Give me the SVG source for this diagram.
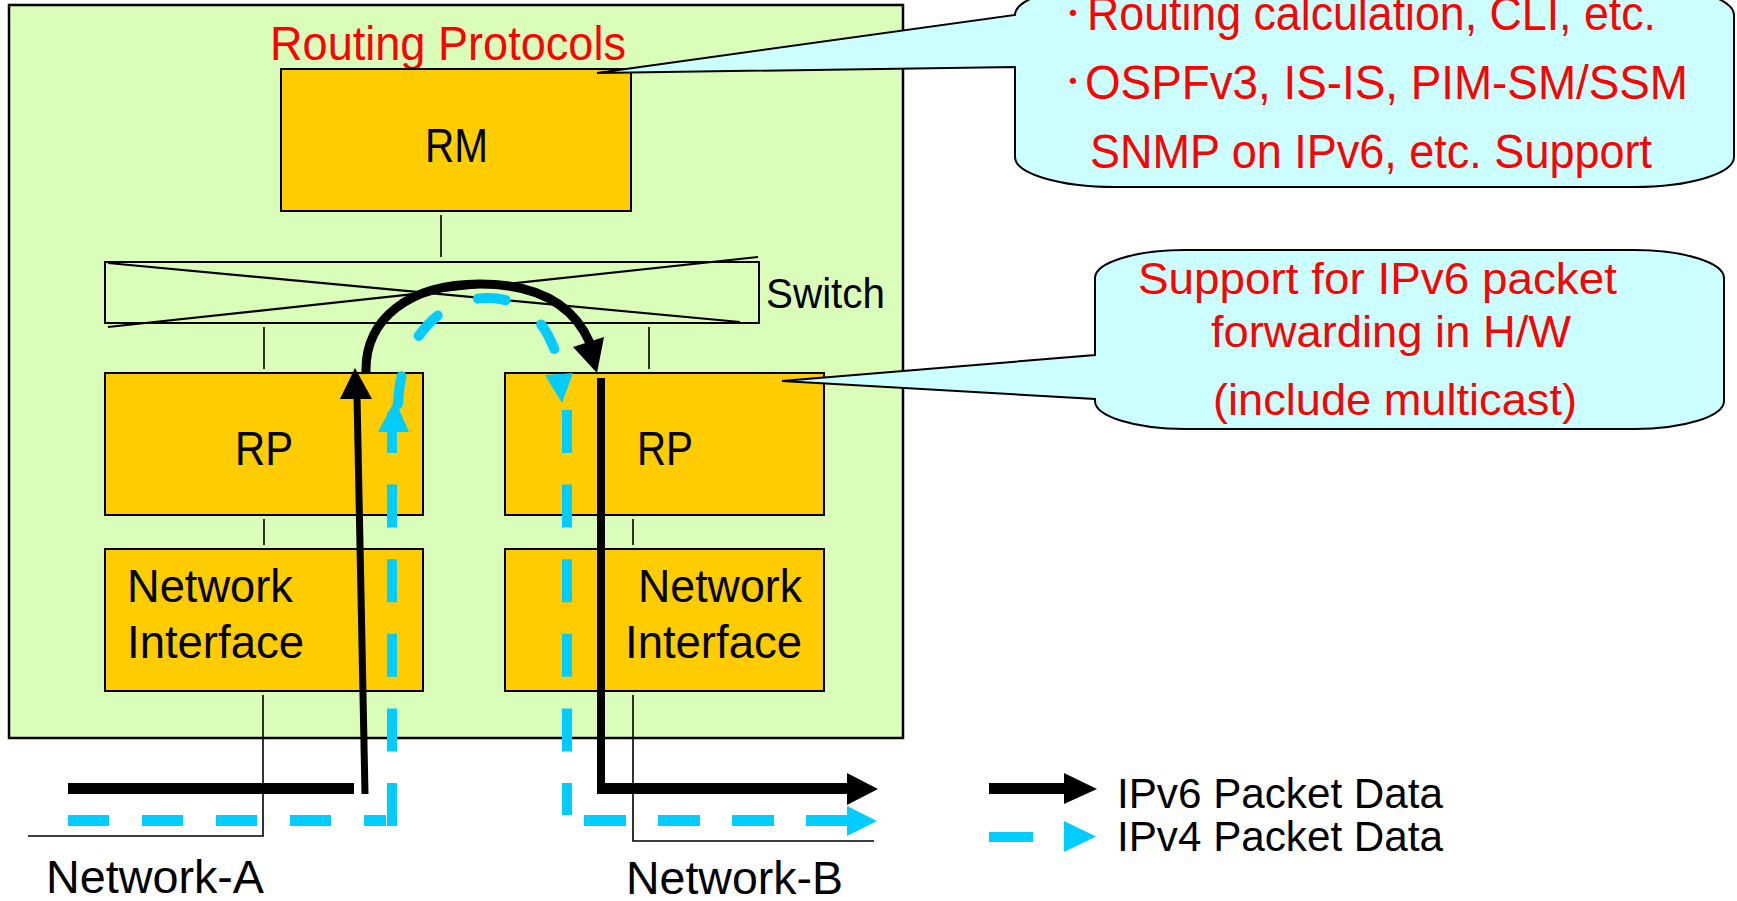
<svg xmlns="http://www.w3.org/2000/svg" width="1737" height="901" viewBox="0 0 1737 901">
  <defs>
    <style>
      .lbl { font-family: "Liberation Sans", "Noto Sans CJK JP", sans-serif; fill: #000; }
      .red { font-family: "Liberation Sans", "Noto Sans CJK JP", sans-serif; fill: #FF0000; }
      .unit { fill: #FFCC00; stroke: #000; stroke-width: 2; }
      .tick { stroke: #000; stroke-width: 1.6; fill: none; }
      .v6 { stroke: #000; fill: none; }
      .v4 { stroke: #00CCFF; fill: none; }
      .callout { fill: #CCFFFF; stroke: #000; stroke-width: 2; }
    </style>
  </defs>

  <!-- router chassis -->
  <g id="chassis">
    <rect x="9" y="5" width="894" height="733" fill="#DAFEBA" stroke="#000" stroke-width="2.5"/>
    <text class="red" x="270" y="60" font-size="48" textLength="356" lengthAdjust="spacingAndGlyphs">Routing Protocols</text>
  </g>

  <g id="rm">
    <rect class="unit" x="281" y="69" width="350" height="142"/>
    <text class="lbl" x="425" y="162" font-size="48" textLength="63" lengthAdjust="spacingAndGlyphs">RM</text>
  </g>

  <g id="switch">
    <rect x="105" y="262" width="654" height="61" fill="none" stroke="#000" stroke-width="2"/>
    <line x1="108" y1="263" x2="740" y2="322" stroke="#000" stroke-width="2.2"/>
    <line x1="108" y1="327" x2="758" y2="257" stroke="#000" stroke-width="2.2"/>
    <text class="lbl" x="766" y="308" font-size="42" textLength="119" lengthAdjust="spacingAndGlyphs">Switch</text>
  </g>

  <g id="rp-a">
    <rect class="unit" x="105" y="373" width="318" height="142"/>
    <text class="lbl" x="235" y="465" font-size="48" textLength="58" lengthAdjust="spacingAndGlyphs">RP</text>
  </g>
  <g id="rp-b">
    <rect class="unit" x="505" y="373" width="319" height="142"/>
    <text class="lbl" x="637" y="465" font-size="48" textLength="56" lengthAdjust="spacingAndGlyphs">RP</text>
  </g>

  <g id="ni-a">
    <rect class="unit" x="105" y="549" width="318" height="142"/>
    <text class="lbl" x="127" y="602" font-size="47" textLength="166" lengthAdjust="spacingAndGlyphs">Network</text>
    <text class="lbl" x="127" y="658" font-size="47" textLength="177" lengthAdjust="spacingAndGlyphs">Interface</text>
  </g>
  <g id="ni-b">
    <rect class="unit" x="505" y="549" width="319" height="142"/>
    <text class="lbl" x="638" y="602" font-size="47" textLength="164" lengthAdjust="spacingAndGlyphs">Network</text>
    <text class="lbl" x="625" y="658" font-size="47" textLength="177" lengthAdjust="spacingAndGlyphs">Interface</text>
  </g>

  <g id="network-a">
    <polyline class="tick" points="263,695 263,836 28,836"/>
    <text class="lbl" x="46" y="893" font-size="47" textLength="218" lengthAdjust="spacingAndGlyphs">Network-A</text>
  </g>
  <g id="network-b">
    <polyline class="tick" points="633,695 633,841 874,841"/>
    <text class="lbl" x="626" y="894" font-size="46" textLength="217" lengthAdjust="spacingAndGlyphs">Network-B</text>
  </g>

  <!-- internal links and packet flows -->
  <g id="connectors">
    <line class="tick" x1="441" y1="215" x2="441" y2="257"/>
    <line class="tick" x1="264" y1="327" x2="264" y2="369"/>
    <line class="tick" x1="649" y1="327" x2="649" y2="369"/>
    <line class="tick" x1="264" y1="519" x2="264" y2="545"/>
    <line class="tick" x1="633" y1="519" x2="633" y2="545"/>

    <!-- IPv6 flow -->
    <line class="v6" x1="68" y1="788.5" x2="354" y2="788.5" stroke-width="11"/>
    <line class="v6" x1="365" y1="794" x2="357" y2="396" stroke-width="7"/>
    <polygon points="355,368 340,399 372,399" fill="#000"/>
    <path class="v6" d="M366,374 C364,318 410,284 480,284 C540,284 574,306 590,343" stroke-width="9"/>
    <polygon points="573,347 604,337 597,373" fill="#000"/>
    <line class="v6" x1="601" y1="378" x2="601" y2="789" stroke-width="8"/>
    <line class="v6" x1="597" y1="788.5" x2="850" y2="788.5" stroke-width="11"/>
    <polygon points="847,773 878,789 847,805" fill="#000"/>

    <!-- IPv4 flow -->
    <line class="v4" x1="68" y1="820.5" x2="386" y2="820.5" stroke-width="11" stroke-dasharray="41 33"/>
    <line class="v4" x1="392" y1="826" x2="392" y2="412" stroke-width="10" stroke-dasharray="43 31.6"/>
    <polygon points="395,400 378,432 409,432" fill="#00CCFF"/>
    <path class="v4" d="M398,404 C400,340 440,298 488,298 C526,298 552,325 561,374" stroke-width="10" stroke-linecap="round" stroke-dasharray="28 44"/>
    <polygon points="545,375 573,373 562,403" fill="#00CCFF"/>
    <line class="v4" x1="567" y1="410" x2="567" y2="815" stroke-width="10" stroke-dasharray="43 31.6"/>
    <line class="v4" x1="584" y1="820.5" x2="848" y2="820.5" stroke-width="11" stroke-dasharray="42 32"/>
    <polygon points="847,806 877,821 847,836" fill="#00CCFF"/>
  </g>

  <!-- annotation balloons -->
  <g id="note-rm">
    <path class="callout" d="M1115,-15 H1634 A100,30 0 0 1 1734,15 V157 A100,30 0 0 1 1634,187 H1115 A100,30 0 0 1 1015,157 V67 L597,73 L1015,15 A100,30 0 0 1 1115,-15 Z"/>
    <text class="red" x="1058" y="24" font-size="30">・</text>
    <text class="red" x="1087" y="30" font-size="48" textLength="569" lengthAdjust="spacingAndGlyphs">Routing calculation, CLI, etc.</text>
    <text class="red" x="1058" y="92" font-size="30">・</text>
    <text class="red" x="1085" y="99" font-size="48" textLength="603" lengthAdjust="spacingAndGlyphs">OSPFv3, IS-IS, PIM-SM/SSM</text>
    <text class="red" x="1090" y="168" font-size="48" textLength="562" lengthAdjust="spacingAndGlyphs">SNMP on IPv6, etc. Support</text>
  </g>

  <g id="note-rp">
    <path class="callout" d="M1185,250 H1634 A90,28 0 0 1 1724,278 V401 A90,28 0 0 1 1634,429 H1185 A90,28 0 0 1 1095,401 V399 L782,381 L1095,355 V278 A90,28 0 0 1 1185,250 Z"/>
    <text class="red" x="1138" y="294" font-size="44" textLength="479" lengthAdjust="spacingAndGlyphs">Support for IPv6 packet</text>
    <text class="red" x="1211" y="347" font-size="45" textLength="360" lengthAdjust="spacingAndGlyphs">forwarding in H/W</text>
    <text class="red" x="1213" y="415" font-size="44" textLength="364" lengthAdjust="spacingAndGlyphs">(include multicast)</text>
  </g>

  <g id="legend">
    <line x1="989" y1="788.5" x2="1066" y2="788.5" stroke="#000" stroke-width="11"/>
    <polygon points="1064,773 1097,789 1064,804" fill="#000"/>
    <text class="lbl" x="1117" y="808" font-size="43" textLength="326" lengthAdjust="spacingAndGlyphs">IPv6 Packet Data</text>
    <rect x="989" y="832" width="44" height="10" fill="#00CCFF"/>
    <polygon points="1064,821 1096,836.5 1064,852" fill="#00CCFF"/>
    <text class="lbl" x="1117" y="851" font-size="43" textLength="326" lengthAdjust="spacingAndGlyphs">IPv4 Packet Data</text>
  </g>
</svg>
